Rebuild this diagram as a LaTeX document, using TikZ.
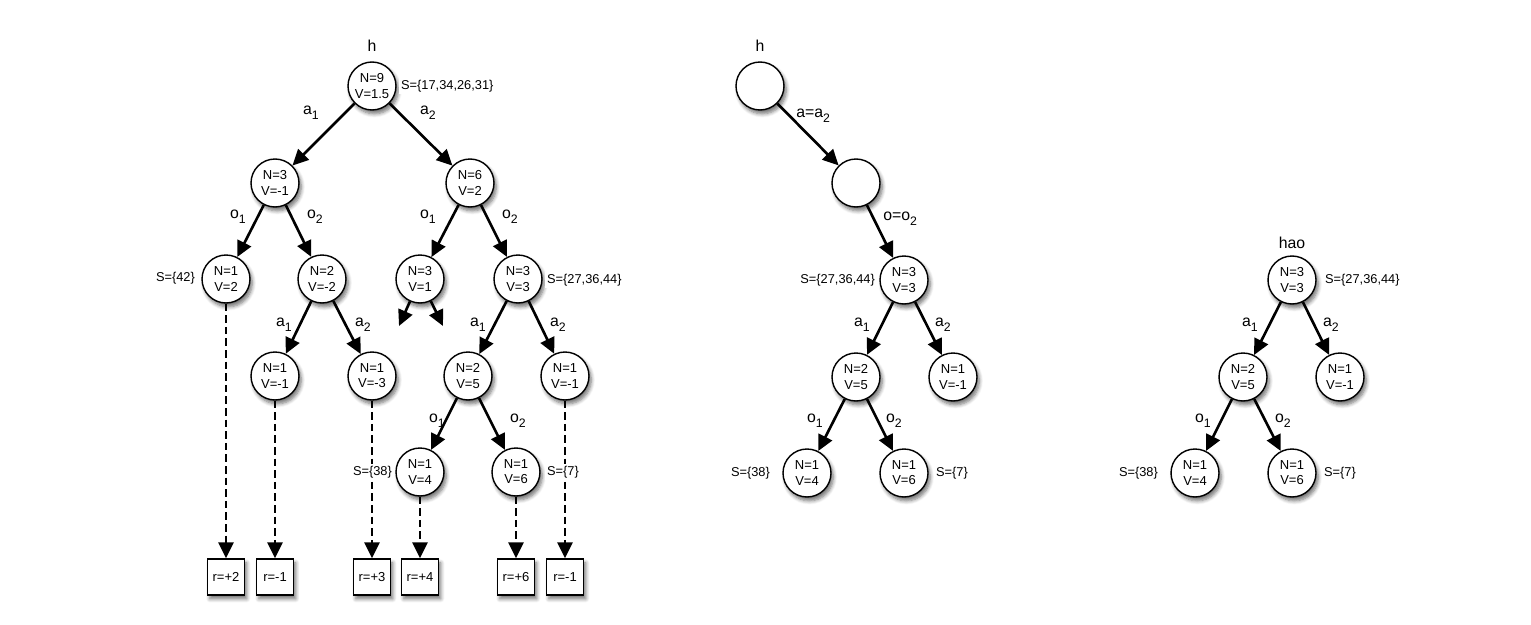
\documentclass[tikz,border=0pt]{standalone}
\usepackage{fontspec}
\setmainfont{Liberation Sans}
\usetikzlibrary{arrows.meta,shadows.blur}

\newcommand{\sub}[1]{\raisebox{-0.55ex}{\fontsize{7}{8}\selectfont #1}}

\tikzset{
  belief/.style={circle, draw, line width=0.8pt, fill=white, minimum size=0.96cm,
    inner sep=0pt, align=center, font=\fontsize{7.4}{8.6}\selectfont,
    blur shadow={shadow xshift=1.3pt, shadow yshift=-2.2pt, shadow blur steps=6, shadow opacity=55}},
  reward/.style={rectangle, draw, line width=0.8pt, fill=white, minimum width=0.74cm,
    minimum height=0.72cm, inner sep=0pt, font=\fontsize{7.4}{8}\selectfont,
    blur shadow={shadow xshift=1.3pt, shadow yshift=-2.2pt, shadow blur steps=6, shadow opacity=55}},
  edge/.style={line width=1.5pt, -{Triangle[length=9pt,width=8.5pt]}},
  rollout/.style={edge, dash pattern=on 4.3pt off 2.3pt},
  lbl/.style={font=\fontsize{9}{10}\selectfont, inner sep=0pt},
  sset/.style={font=\fontsize{7.3}{8}\selectfont, inner sep=1pt, fill=white}
}

\begin{document}
\begin{tikzpicture}[x=0.02cm, y=-0.02cm]
  \useasboundingbox (0,0) rectangle (1531,625);

  % Search tree
  \node[belief] (h) at (372,86) {N=9\\V=1.5};
  \node[belief] (ha1) at (275,183) {N=3\\V=-1};
  \node[belief] (ha2) at (470,183) {N=6\\V=2};
  \node[belief] (ha1o1) at (226,279) {N=1\\V=2};
  \node[belief] (ha1o2) at (322,279) {N=2\\V=-2};
  \node[belief] (ha2o1) at (420,279) {N=3\\V=1};
  \node[belief] (ha2o2) at (518,279) {N=3\\V=3};
  \node[belief] (ha1o2a1) at (275,376) {N=1\\V=-1};
  \node[belief] (ha1o2a2) at (372,376) {N=1\\V=-3};
  \node[belief] (ha2o2a1) at (468,376) {N=2\\V=5};
  \node[belief] (ha2o2a2) at (565,376) {N=1\\V=-1};
  \node[belief] (ha2o2a1o1) at (420,472) {N=1\\V=4};
  \node[belief] (ha2o2a1o2) at (516,472) {N=1\\V=6};
  \coordinate (d1) at (399,326);
  \coordinate (d2) at (443,326);

  % Rewards
  \node[reward] (r1) at (226,577) {r=+2};
  \node[reward] (r2) at (275,577) {r=-1};
  \node[reward] (r3) at (372,577) {r=+3};
  \node[reward] (r4) at (420,577) {r=+4};
  \node[reward] (r5) at (516,577) {r=+6};
  \node[reward] (r6) at (565,577) {r=-1};

  % Edges
  \draw[edge] (h) -- (ha1);
  \draw[edge] (h) -- (ha2);
  \draw[edge] (ha1) -- (ha1o1);
  \draw[edge] (ha1) -- (ha1o2);
  \draw[edge] (ha2) -- (ha2o1);
  \draw[edge] (ha2) -- (ha2o2);
  \draw[edge] (ha1o2) -- (ha1o2a1);
  \draw[edge] (ha1o2) -- (ha1o2a2);
  \draw[edge] (ha2o1) -- (d1);
  \draw[edge] (ha2o1) -- (d2);
  \draw[edge] (ha2o2) -- (ha2o2a1);
  \draw[edge] (ha2o2) -- (ha2o2a2);
  \draw[edge] (ha2o2a1) -- (ha2o2a1o1);
  \draw[edge] (ha2o2a1) -- (ha2o2a1o2);
  \draw[rollout] (ha1o1.south) -- (r1.north);
  \draw[rollout] (ha1o2a1.south) -- (r2.north);
  \draw[rollout] (ha1o2a2.south) -- (r3.north);
  \draw[rollout] (ha2o2a1o1.south) -- (r4.north);
  \draw[rollout] (ha2o2a1o2.south) -- (r5.north);
  \draw[rollout] (ha2o2a2.south) -- (r6.north);

  % Labels
  \node[lbl] (hl) at (372,46) {h};
  \node[sset, anchor=west] (hs) at (399,86) {S=\{17,34,26,31\}};
  \node[lbl] (la1) at (311,113) {a\sub{1}};
  \node[lbl] (la2) at (428,113) {a\sub{2}};
  \node[lbl] (lo1) at (238,217) {o\sub{1}};
  \node[lbl] (lo2) at (315,217) {o\sub{2}};
  \node[lbl] (lo3) at (428,217) {o\sub{1}};
  \node[lbl] (lo4) at (510,217) {o\sub{2}};
  \node[sset, anchor=east] (s42) at (197,278) {S=\{42\}};
  \node[sset, anchor=west] (s3) at (545,280) {S=\{27,36,44\}};
  \node[lbl] (la3) at (284,325) {a\sub{1}};
  \node[lbl] (la4) at (363,325) {a\sub{2}};
  \node[lbl] (la5) at (478,325) {a\sub{1}};
  \node[lbl] (la6) at (558,325) {a\sub{2}};
  \node[lbl] (lo5) at (437,421) {o\sub{1}};
  \node[lbl] (lo6) at (518,421) {o\sub{2}};
  \node[sset, anchor=east] (s38) at (394,472) {S=\{38\}};
  \node[sset, anchor=west] (s7) at (545,472) {S=\{7\}};

  % Middle: following a=a2, o=o2
  \node[belief] (m) at (760,86) {};
  \node[belief] (ma) at (856,183) {};
  \node[belief] (mao) at (904,280) {N=3\\V=3};
  \node[belief] (mao1) at (856,377) {N=2\\V=5};
  \node[belief] (mao2) at (953,377) {N=1\\V=-1};
  \node[belief] (mao11) at (807,473) {N=1\\V=4};
  \node[belief] (mao12) at (904,473) {N=1\\V=6};
  \draw[edge] (m) -- (ma);
  \draw[edge] (ma) -- (mao);
  \draw[edge] (mao) -- (mao1);
  \draw[edge] (mao) -- (mao2);
  \draw[edge] (mao1) -- (mao11);
  \draw[edge] (mao1) -- (mao12);
  \node[lbl] (ml) at (760,46) {h};
  \node[lbl, anchor=west] (mla) at (796,116) {a=a\sub{2}};
  \node[lbl, anchor=west] (mlo) at (883,219) {o=o\sub{2}};
  \node[sset, anchor=east] (ms) at (877,280) {S=\{27,36,44\}};
  \node[lbl] (mla1) at (862,325) {a\sub{1}};
  \node[lbl] (mla2) at (943,325) {a\sub{2}};
  \node[lbl] (mlo1) at (815,421) {o\sub{1}};
  \node[lbl] (mlo2) at (894,421) {o\sub{2}};
  \node[sset, anchor=east] (ms38) at (772,473) {S=\{38\}};
  \node[sset, anchor=west] (ms7) at (934,473) {S=\{7\}};

  % Right: new root hao
  \node[belief] (n) at (1292,280) {N=3\\V=3};
  \node[belief] (n1) at (1243,377) {N=2\\V=5};
  \node[belief] (n2) at (1340,377) {N=1\\V=-1};
  \node[belief] (n11) at (1195,473) {N=1\\V=4};
  \node[belief] (n12) at (1292,473) {N=1\\V=6};
  \draw[edge] (n) -- (n1);
  \draw[edge] (n) -- (n2);
  \draw[edge] (n1) -- (n11);
  \draw[edge] (n1) -- (n12);
  \node[lbl] (nl) at (1292,243) {hao};
  \node[sset, anchor=west] (ns) at (1323,280) {S=\{27,36,44\}};
  \node[lbl] (nla1) at (1250,325) {a\sub{1}};
  \node[lbl] (nla2) at (1331,325) {a\sub{2}};
  \node[lbl] (nlo1) at (1203,421) {o\sub{1}};
  \node[lbl] (nlo2) at (1283,421) {o\sub{2}};
  \node[sset, anchor=east] (ns38) at (1160,473) {S=\{38\}};
  \node[sset, anchor=west] (ns7) at (1322,473) {S=\{7\}};
\end{tikzpicture}
\end{document}
